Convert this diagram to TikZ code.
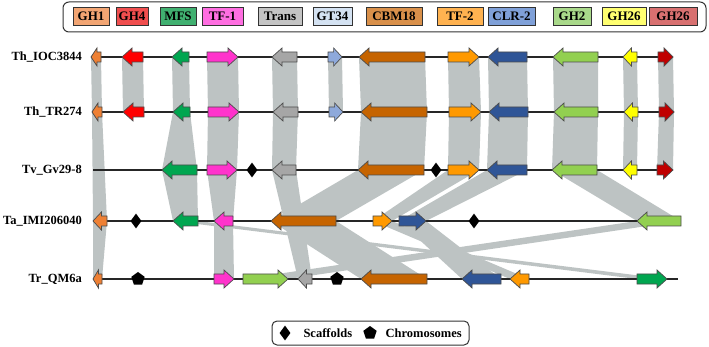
\documentclass[tikz,border=0pt]{standalone}
\usepackage{fontspec}
\setmainfont{Liberation Serif}
\usetikzlibrary{shapes.geometric}

% colours of the gene families (arrows) and of the legend boxes
\definecolor{bandgray}{RGB}{189,195,195}
\definecolor{cghone}{RGB}{238,128,52}   \definecolor{lghone}{RGB}{242,165,115}
\definecolor{cghfour}{RGB}{255,0,0}     \definecolor{lghfour}{RGB}{240,78,78}
\definecolor{cmfs}{RGB}{0,166,80}       \definecolor{lmfs}{RGB}{64,176,112}
\definecolor{ctfone}{RGB}{255,51,204}   \definecolor{ltfone}{RGB}{255,110,225}
\definecolor{ctrans}{RGB}{166,166,166}  \definecolor{ltrans}{RGB}{196,196,196}
\definecolor{cgt}{RGB}{142,169,219}     \definecolor{lgt}{RGB}{212,226,242}
\definecolor{ccbm}{RGB}{198,100,0}      \definecolor{lcbm}{RGB}{217,144,74}
\definecolor{ctftwo}{RGB}{255,153,0}    \definecolor{ltftwo}{RGB}{255,178,80}
\definecolor{cclr}{RGB}{47,85,151}      \definecolor{lclr}{RGB}{127,160,216}
\definecolor{cghtwo}{RGB}{146,208,80}   \definecolor{lghtwo}{RGB}{169,217,138}
\definecolor{cghy}{RGB}{255,255,0}      \definecolor{lghy}{RGB}{255,255,112}
\definecolor{cghr}{RGB}{192,0,0}        \definecolor{lghr}{RGB}{216,112,112}

% gene pointing right: x start, x end, row y, colour
\newcommand{\gener}[4]{%
  \pgfmathsetmacro{\hl}{min(10,0.6*(#2-#1))}
  \filldraw[gene, fill=#4] (#1,#3-5) -- (#2-\hl,#3-5) -- (#2-\hl,#3-9) -- (#2,#3)
    -- (#2-\hl,#3+9) -- (#2-\hl,#3+5) -- (#1,#3+5) -- cycle;
}
% gene pointing left: x tip, x end, row y, colour
\newcommand{\genel}[4]{%
  \pgfmathsetmacro{\hl}{min(10,0.6*(#2-#1))}
  \filldraw[gene, fill=#4] (#2,#3-5) -- (#1+\hl,#3-5) -- (#1+\hl,#3-9) -- (#1,#3)
    -- (#1+\hl,#3+9) -- (#1+\hl,#3+5) -- (#2,#3+5) -- cycle;
}
% grey synteny band between two rows
\newcommand{\synband}[6]{%
  \fill[band] (#1,#3) -- (#2,#3) -- (#5,#6) -- (#4,#6) -- cycle;
}

\begin{document}
\begin{tikzpicture}[x=1pt, y=-1pt,
  gene/.style={draw=black!70, line width=0.7pt},
  band/.style={fill=bandgray},
  chrom/.style={line width=1.1pt, draw=black!85},
  lab/.style={anchor=east, inner sep=1pt, font=\fontsize{12.5}{15}\selectfont\bfseries},
  legbox/.style={draw=black!80, line width=0.8pt, minimum height=18pt, inner sep=0pt,
    font=\fontsize{13}{15}\selectfont\bfseries},
  scaffold/.style={diamond, fill=black, inner sep=0pt, minimum width=11pt, minimum height=15pt},
  chromo/.style={regular polygon, regular polygon sides=5, fill=black, inner sep=0pt, minimum size=14pt}]

  \useasboundingbox (0,0) rectangle (709,347);

  % Legend of gene families
  \draw[rounded corners=6pt, line width=1pt, black!80] (63,2) rectangle (706,32);
  \node[legbox, fill=lghone,  minimum width=36pt] (lghone)  at (91,16)    {GH1};
  \node[legbox, fill=lghfour, minimum width=32pt] (lghfour) at (132,16)   {GH4};
  \node[legbox, fill=lmfs,    minimum width=36pt] (lmfs)    at (178,16)   {MFS};
  \node[legbox, fill=ltfone,  minimum width=41pt] (ltfone)  at (222.5,16) {TF-1};
  \node[legbox, fill=ltrans,  minimum width=44pt] (ltrans)  at (280,16)   {Trans};
  \node[legbox, fill=lgt,     minimum width=39pt] (lgt)     at (332.5,16) {GT34};
  \node[legbox, fill=lcbm,    minimum width=56pt] (lcbm)    at (394,16)   {CBM18};
  \node[legbox, fill=ltftwo,  minimum width=46pt] (ltftwo)  at (460,16)   {TF-2};
  \node[legbox, fill=lclr,    minimum width=47pt] (lclr)    at (511.5,16) {CLR-2};
  \node[legbox, fill=lghtwo,  minimum width=38pt] (lghtwo)  at (572,16)   {GH2};
  \node[legbox, fill=lghy,    minimum width=44pt] (lghy)    at (624,16)   {GH26};
  \node[legbox, fill=lghr,    minimum width=48pt] (lghr)    at (673,16)   {GH26};

  % Bands row 1 -> row 2
  \synband{91}{101}{57}{92}{102}{112}
  \synband{122}{143}{57}{123}{144}{112}
  \synband{172}{189}{57}{173}{190}{112}
  \synband{207}{238}{57}{208}{239}{112}
  \synband{272}{297}{57}{273}{298}{112}
  \synband{328}{342}{57}{329}{343}{112}
  \synband{359}{425}{57}{361}{427}{112}
  \synband{448}{479}{57}{449}{481}{112}
  \synband{488}{527}{57}{489}{528}{112}
  \synband{553}{598}{57}{554}{598}{112}
  \synband{623}{637}{57}{624}{638}{112}
  \synband{658}{673}{57}{659}{674}{112}

  % Bands row 2 -> row 3 (GH1 goes on to row 4)
  \synband{92}{102}{112}{93}{107}{221}
  \synband{173}{190}{112}{162}{197}{170}
  \synband{208}{239}{112}{207}{237}{170}
  \synband{273}{298}{112}{272}{296}{170}
  \synband{361}{427}{112}{358}{424}{170}
  \synband{449}{481}{112}{448}{479}{170}
  \synband{489}{528}{112}{487}{527}{170}
  \synband{554}{598}{112}{552}{597}{170}
  \synband{624}{638}{112}{623}{637}{170}
  \synband{659}{674}{112}{657}{673}{170}

  % Bands row 3 -> row 4 (Trans goes on to row 5)
  \synband{162}{197}{170}{173}{198}{221}
  \synband{207}{237}{170}{214}{233}{221}
  \synband{272}{296}{170}{298}{312}{279}
  \synband{358}{424}{170}{271}{336}{221}
  \synband{448}{479}{170}{373}{392}{221}
  \synband{487}{527}{170}{399}{426}{221}
  \synband{552}{597}{170}{637}{681}{221}

  % Bands row 4 -> row 5
  \synband{93}{107}{221}{93}{102}{279}
  \synband{173}{198}{221}{637}{667}{279}
  \synband{214}{233}{221}{214}{234}{279}
  \synband{271}{336}{221}{361}{427}{279}
  \synband{373}{392}{221}{510}{529}{279}
  \synband{399}{426}{221}{462}{501}{279}
  \synband{637}{681}{221}{243}{288}{279}

  % Strain names
  \node[lab] (sone)   at (83,57)  {Th\_IOC3844};
  \node[lab] (stwo)   at (83,112) {Th\_TR274};
  \node[lab] (sthree) at (83,170) {Tv\_Gv29-8};
  \node[lab] (sfour)  at (83,221) {Ta\_IMI206040};
  \node[lab] (sfive)  at (83,279) {Tr\_QM6a};

  % Chromosome lines
  \draw[chrom] (91,57) -- (673,57);
  \draw[chrom] (92,112) -- (674,112);
  \draw[chrom] (93,170) -- (673,170);
  \draw[chrom] (93,221) -- (681,221);
  \draw[chrom] (93,279) -- (678,279);

  % Row 1: Th_IOC3844
  \genel{91}{101}{57}{cghone}
  \genel{122}{143}{57}{cghfour}
  \genel{172}{189}{57}{cmfs}
  \gener{207}{238}{57}{ctfone}
  \genel{272}{297}{57}{ctrans}
  \gener{328}{342}{57}{cgt}
  \genel{359}{425}{57}{ccbm}
  \gener{448}{479}{57}{ctftwo}
  \genel{488}{527}{57}{cclr}
  \genel{553}{598}{57}{cghtwo}
  \genel{623}{637}{57}{cghy}
  \gener{658}{673}{57}{cghr}

  % Row 2: Th_TR274
  \genel{92}{102}{112}{cghone}
  \genel{123}{144}{112}{cghfour}
  \genel{173}{190}{112}{cmfs}
  \gener{208}{239}{112}{ctfone}
  \genel{273}{298}{112}{ctrans}
  \gener{329}{343}{112}{cgt}
  \genel{361}{427}{112}{ccbm}
  \gener{449}{481}{112}{ctftwo}
  \genel{489}{528}{112}{cclr}
  \genel{554}{598}{112}{cghtwo}
  \genel{624}{638}{112}{cghy}
  \gener{659}{674}{112}{cghr}

  % Row 3: Tv_Gv29-8
  \genel{162}{197}{170}{cmfs}
  \gener{207}{237}{170}{ctfone}
  \genel{272}{296}{170}{ctrans}
  \genel{358}{424}{170}{ccbm}
  \gener{448}{479}{170}{ctftwo}
  \genel{487}{527}{170}{cclr}
  \genel{552}{597}{170}{cghtwo}
  \genel{623}{637}{170}{cghy}
  \gener{657}{673}{170}{cghr}
  \node[scaffold] (dthreea) at (252,170) {};
  \node[scaffold] (dthreeb) at (436,170) {};

  % Row 4: Ta_IMI206040
  \genel{93}{107}{221}{cghone}
  \genel{173}{198}{221}{cmfs}
  \genel{214}{233}{221}{ctfone}
  \genel{271}{336}{221}{ccbm}
  \gener{373}{392}{221}{ctftwo}
  \gener{399}{426}{221}{cclr}
  \genel{637}{681}{221}{cghtwo}
  \node[scaffold] (dfoura) at (136,221) {};
  \node[scaffold] (dfourb) at (474,221) {};

  % Row 5: Tr_QM6a
  \genel{93}{102}{279}{cghone}
  \gener{214}{234}{279}{ctfone}
  \gener{243}{288}{279}{cghtwo}
  \genel{298}{312}{279}{ctrans}
  \genel{361}{427}{279}{ccbm}
  \genel{462}{501}{279}{cclr}
  \genel{510}{529}{279}{ctftwo}
  \gener{637}{667}{279}{cmfs}
  \node[chromo] (pfivea) at (138,279) {};
  \node[chromo] (pfiveb) at (337,279) {};

  % Legend of markers
  \draw[rounded corners=5pt, line width=1pt, black!80] (272,321) rectangle (469,345);
  \node[scaffold] (lscaf) at (285,333) {};
  \node[font=\fontsize{12.5}{14}\selectfont\bfseries, anchor=west] (tscaf) at (300,333) {Scaffolds};
  \node[chromo] (lchrom) at (370,333) {};
  \node[font=\fontsize{12.5}{14}\selectfont\bfseries, anchor=west] (tchrom) at (382,333) {Chromosomes};

\end{tikzpicture}
\end{document}
